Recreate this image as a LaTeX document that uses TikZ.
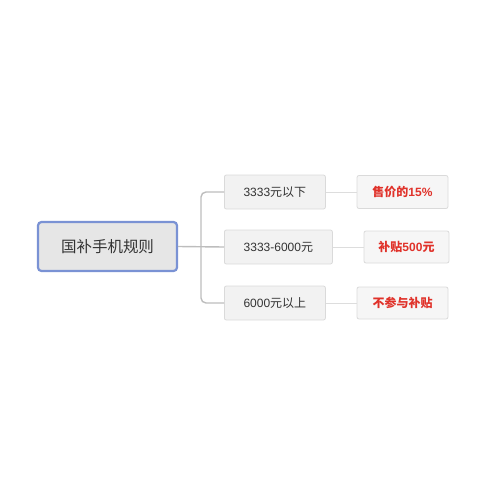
\documentclass[tikz,border=0pt]{standalone}
\usepackage{fontspec}
\newfontfamily\cjk{Noto Sans CJK SC}
\newfontfamily\lat{Liberation Sans}
\definecolor{rootfill}{HTML}{E6E6E6}
\definecolor{rootdraw}{HTML}{7A92D4}
\definecolor{boxfill}{HTML}{F2F2F2}
\definecolor{boxdraw}{HTML}{DADADA}
\definecolor{txt}{HTML}{333333}
\definecolor{red}{HTML}{E0322A}
\definecolor{trunk}{HTML}{BDBDBD}
\definecolor{twig}{HTML}{DDDDDD}
\begin{document}
\begin{tikzpicture}[x=1pt,y=-1pt,
  rootbox/.style={draw=rootdraw,line width=2.2pt,fill=rootfill,rounded corners=3.5pt,minimum width=139pt,minimum height=49pt,inner sep=0pt,font=\cjk\fontsize{15.5}{18}\selectfont,text=txt},
  midbox/.style={draw=boxdraw,line width=0.8pt,fill=boxfill,rounded corners=2pt,minimum height=34pt,inner sep=0pt,font=\cjk\fontsize{12}{14}\selectfont,text=txt,anchor=west},
  endbox/.style={draw=boxdraw,line width=0.8pt,fill=boxfill!70!white,rounded corners=2pt,minimum height=33pt,inner sep=0pt,font=\cjk\bfseries\fontsize{12}{14}\selectfont,text=red},
  trunkline/.style={draw=trunk,line width=1.4pt,rounded corners=5pt},
  twigline/.style={draw=twig,line width=1pt}]
\useasboundingbox (0,0) rectangle (480,480);
\node[rootbox] (root) at (107.5,246.5) {国补手机规则};
\node[midbox,minimum width=101pt] (a) at (224,192) {{\lat 3333}元以下};
\node[midbox,minimum width=108pt] (b) at (224,247) {{\lat 3333-6000}元};
\node[midbox,minimum width=101pt] (c) at (224,303) {{\lat 6000}元以上};
\node[endbox,minimum width=91pt] (a2) at (402.5,192) {售价的{\lat\bfseries 15\%}};
\node[endbox,minimum width=85pt,minimum height=32pt] (b2) at (406.5,247) {补贴{\lat\bfseries 500}元};
\node[endbox,minimum width=91pt,minimum height=32pt] (c2) at (402.5,303) {不参与补贴};
\coordinate (j) at (201,247);
\draw[trunkline] (root.east) -- (b.west);
\draw[trunkline] (a.west) -- (j|-a.west) -- (j|-c.west) -- (c.west);
\draw[twigline] (a.east) -- (a2.west);
\draw[twigline] (b.east) -- (b2.west);
\draw[twigline] (c.east) -- (c2.west);
\end{tikzpicture}
\end{document}
